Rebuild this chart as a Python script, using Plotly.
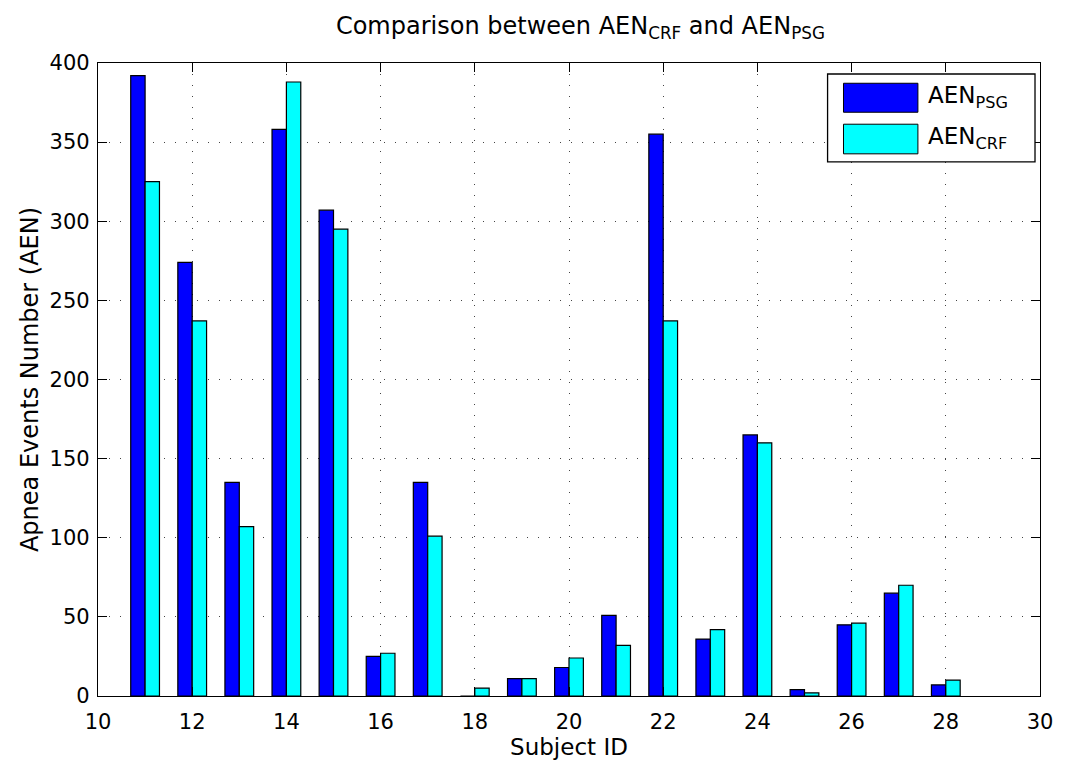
import plotly.graph_objects as go

subjects = [11, 12, 13, 14, 15, 16, 17, 18, 19, 20, 21, 22, 23, 24, 25, 26, 27, 28]
aen_psg = [392, 274, 135, 358, 307, 25, 135, 0, 11, 18, 51, 355, 36, 165, 4, 45, 65, 7]
aen_crf = [325, 237, 107, 388, 295, 27, 101, 5, 11, 24, 32, 237, 42, 160, 2, 46, 70, 10]
x_ticks = list(range(10, 31, 2))
y_ticks = list(range(0, 401, 50))

FONT = "DejaVu Sans, Liberation Sans, Arial, sans-serif"
PSG_COLOR = "#0000FF"
CRF_COLOR = "#00FFFF"

fig = go.Figure()
fig.add_trace(go.Bar(x=subjects, y=aen_psg, name="AEN<sub>PSG</sub>",
                     marker=dict(color=PSG_COLOR, line=dict(color="black", width=1.2)),
                     showlegend=False))
fig.add_trace(go.Bar(x=subjects, y=aen_crf, name="AEN<sub>CRF</sub>",
                     marker=dict(color=CRF_COLOR, line=dict(color="black", width=1.2)),
                     showlegend=False))

axis_common = dict(
    showline=True, linecolor="black", linewidth=1.3, mirror="ticks",
    ticks="inside", ticklen=9, tickcolor="black", tickwidth=1,
    showgrid=True, gridcolor="#444444", gridwidth=1, griddash="1px,10px",
    zeroline=False, tickfont=dict(family=FONT, size=21, color="black"),
)

fig.update_xaxes(range=[10, 30], tickvals=x_ticks, ticktext=[str(v) for v in x_ticks],
                 ticklabelstandoff=7,
                 title=dict(text="Subject ID", font=dict(family=FONT, size=23, color="black"), standoff=0),
                 **axis_common)
fig.update_yaxes(range=[0, 400], tickvals=y_ticks, ticktext=[str(v) for v in y_ticks],
                 ticklabelstandoff=3,
                 title=dict(text="Apnea Events Number (AEN)", font=dict(family=FONT, size=24, color="black"), standoff=4),
                 **axis_common)

# custom legend (MATLAB style with large swatches)
shapes = [
    dict(type="rect", xref="paper", yref="paper", x0=0.7745, x1=0.9947, y0=0.8438, y1=0.9826,
         line=dict(color="black", width=1.3), fillcolor="white", layer="above"),
    dict(type="rect", xref="paper", yref="paper", x0=0.7914, x1=0.8704, y0=0.9222, y1=0.968,
         line=dict(color="black", width=1), fillcolor=PSG_COLOR, layer="above"),
    dict(type="rect", xref="paper", yref="paper", x0=0.7914, x1=0.8704, y0=0.8565, y1=0.9033,
         line=dict(color="black", width=1), fillcolor=CRF_COLOR, layer="above"),
]
annotations = [
    dict(text="AEN<sub>PSG</sub>", xref="paper", yref="paper", x=0.8785, y=0.946,
         xanchor="left", yanchor="middle", showarrow=False,
         font=dict(family=FONT, size=23, color="black")),
    dict(text="AEN<sub>CRF</sub>", xref="paper", yref="paper", x=0.8785, y=0.8817,
         xanchor="left", yanchor="middle", showarrow=False,
         font=dict(family=FONT, size=23, color="black")),
]

fig.update_layout(
    width=1065, height=762,
    margin=dict(l=98, r=18, t=63, b=65),
    paper_bgcolor="white", plot_bgcolor="white",
    barmode="group", bargap=0.39, bargroupgap=0.0,
    title=dict(text="Comparison between AEN<sub>CRF</sub> and AEN<sub>PSG</sub>",
               x=0.545, xanchor="center", y=0.966, yanchor="middle",
               font=dict(family=FONT, size=24, color="black")),
    shapes=shapes, annotations=annotations,
)

fig.write_html("out.html")
